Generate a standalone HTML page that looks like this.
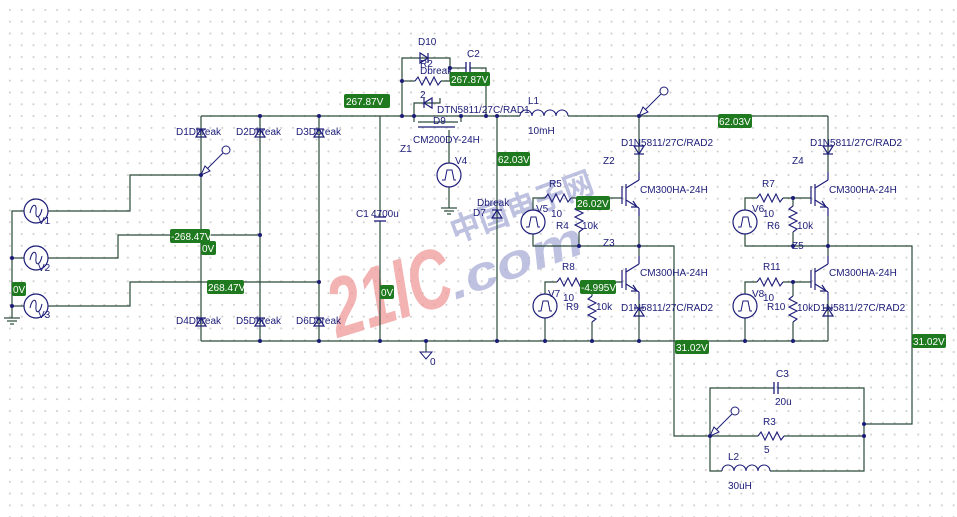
<!DOCTYPE html>
<html><head><meta charset="utf-8"><style>
html,body{margin:0;padding:0;background:#fff}
body{width:957px;height:517px;overflow:hidden;position:relative;
background-image:radial-gradient(circle,#cfcfcf 0.8px,transparent 1.2px);background-size:11.8px 11.8px;background-position:4px 4px}
svg{position:absolute;left:0;top:0}
text{font-family:"Liberation Sans",Arial,sans-serif;font-size:10px;fill:#1c1c78}
.g text{fill:#fff;font-size:10px}
.g rect{fill:#1f7a1f}
</style></head><body>
<svg width="957" height="517" viewBox="0 0 957 517">
<defs>
<g id="dup"><polygon points="-5,4 5,4 0,-4" fill="none" stroke="#1c1c78" stroke-width="1.2"/><line x1="-5" y1="-4" x2="5" y2="-4" stroke="#1c1c78" stroke-width="1.2"/></g>
<g id="ddn"><polygon points="-5,-4 5,-4 0,4" fill="none" stroke="#1c1c78" stroke-width="1.2"/><line x1="-5" y1="4" x2="5" y2="4" stroke="#1c1c78" stroke-width="1.2"/></g>
<g id="rh"><polyline points="0,0 3,-4 7,4 11,-4 15,4 19,-4 23,4 26,0" fill="none" stroke="#1c1c78" stroke-width="1.1"/></g>
<g id="rv"><polyline points="0,0 -4,3 4,7 -4,11 4,15 -4,19 4,23 0,26" fill="none" stroke="#1c1c78" stroke-width="1.1"/></g>
<g id="sine"><circle r="12" fill="#fff" stroke="#1c1c78" stroke-width="1.2"/><path d="M-6,2 C-4,-8 1,-8 0,0 C-1,8 4,8 6,-2" fill="none" stroke="#1c1c78"/></g>
<g id="pulse"><circle r="12" fill="#fff" stroke="#1c1c78" stroke-width="1.2"/><polyline points="-7,5 -4,5 -2,-5 3,-5 5,5 7,5" fill="none" stroke="#1c1c78"/></g>
<g id="igbt" stroke="#1c1c78" stroke-width="1.2" fill="none"><line x1="0" y1="0" x2="0" y2="8"/><line x1="0" y1="8" x2="-13" y2="16"/><line x1="-13" y1="12" x2="-13" y2="34"/><line x1="-17" y1="14" x2="-17" y2="32"/><line x1="-13" y1="28" x2="0" y2="36"/><polyline points="-6,29 -2,35 -8,35"/><line x1="0" y1="36" x2="0" y2="44"/></g>
<g id="probe" stroke="#1c1c78" fill="none"><line x1="0" y1="0" x2="22" y2="-22"/><polygon points="0,0 9,-4 4,-9" fill="#fff"/><circle cx="25" cy="-25" r="4"/></g>
<g id="dot"><circle r="2" fill="#1c1c78"/></g>
</defs>

<!-- watermark -->
<g opacity="0.75">
<text x="338" y="338" textLength="125" lengthAdjust="spacingAndGlyphs" transform="rotate(-17 338 338)" style="font-size:84px;font-weight:bold;font-style:italic;fill:#ef9a9a">21IC</text>
<text x="455" y="243" textLength="150" lengthAdjust="spacingAndGlyphs" transform="rotate(-20 455 243)" style="font-size:32px;font-weight:bold;fill:#a9aed6;font-family:'Noto Sans CJK SC',sans-serif">中国电子网</text>
<text x="455" y="300" textLength="140" lengthAdjust="spacingAndGlyphs" transform="rotate(-20 455 300)" style="font-size:48px;font-weight:bold;font-style:italic;fill:#a9aed6">.com</text>
</g>

<g stroke="#2a4a3a" stroke-width="1.2" fill="none">
<line x1="201" y1="116" x2="520" y2="116"/>
<line x1="568" y1="116" x2="828" y2="116"/>
<line x1="201" y1="341" x2="828" y2="341"/>
<line x1="201" y1="116" x2="201" y2="341"/>
<line x1="260" y1="116" x2="260" y2="341"/>
<line x1="319" y1="116" x2="319" y2="341"/>
<polyline points="201,175 130,175 130,211 48,211"/>
<polyline points="260,235 118,235 118,258 48,258"/>
<polyline points="319,282 130,282 130,306 48,306"/>
<polyline points="24,211 12,211 12,318"/>
<line x1="12" y1="258" x2="24" y2="258"/>
<line x1="12" y1="306" x2="24" y2="306"/>
<line x1="4" y1="318" x2="20" y2="318"/><line x1="7" y1="321" x2="17" y2="321"/><line x1="10" y1="324" x2="14" y2="324"/>
<line x1="380" y1="116" x2="380" y2="217"/><line x1="380" y1="221" x2="380" y2="341"/>
<line x1="426" y1="341" x2="426" y2="352"/>
<line x1="497" y1="116" x2="497" y2="341"/>
<polyline points="402,116 402,58 450,58 450,68"/>
<polyline points="450,68 466,68"/><polyline points="470,68 486,68 486,116"/>
<polyline points="402,81 415,81"/><polyline points="441,81 450,81 450,68"/>
<polyline points="414,116 414,103 440,103 440,98"/>
<line x1="414" y1="116" x2="414" y2="122"/><line x1="461" y1="116" x2="461" y2="122"/>
<line x1="418" y1="122" x2="458" y2="122"/>
<line x1="449" y1="130" x2="449" y2="163"/><line x1="449" y1="187" x2="449" y2="208"/>
<line x1="441" y1="208" x2="457" y2="208"/><line x1="444" y1="211" x2="454" y2="211"/><line x1="447" y1="214" x2="451" y2="214"/>
<line x1="639" y1="116" x2="639" y2="172"/><line x1="639" y1="216" x2="639" y2="256"/><line x1="639" y1="300" x2="639" y2="341"/>
<line x1="828" y1="116" x2="828" y2="172"/><line x1="828" y1="216" x2="828" y2="256"/><line x1="828" y1="300" x2="828" y2="341"/>
<polyline points="533,210 533,198 545,198"/><line x1="571" y1="198" x2="622" y2="198"/>
<line x1="579" y1="198" x2="579" y2="206"/><line x1="579" y1="232" x2="579" y2="246"/>
<polyline points="533,234 533,246 674,246 674,436 710,436"/>
<polyline points="545,294 545,282 557,282"/><line x1="583" y1="282" x2="622" y2="282"/>
<line x1="592" y1="282" x2="592" y2="296"/><line x1="592" y1="322" x2="592" y2="341"/>
<line x1="545" y1="318" x2="545" y2="341"/>
<polyline points="745,210 745,198 757,198"/><line x1="783" y1="198" x2="811" y2="198"/>
<line x1="793" y1="198" x2="793" y2="206"/><line x1="793" y1="232" x2="793" y2="246"/>
<polyline points="745,234 745,246 912,246 912,424 864,424"/>
<polyline points="745,294 745,282 757,282"/><line x1="783" y1="282" x2="811" y2="282"/>
<line x1="793" y1="282" x2="793" y2="296"/><line x1="793" y1="322" x2="793" y2="341"/>
<line x1="745" y1="318" x2="745" y2="341"/>
<polyline points="774,388 710,388 710,471 722,471"/>
<polyline points="778,388 864,388 864,471 770,471"/>
<line x1="710" y1="436" x2="758" y2="436"/><line x1="784" y1="436" x2="864" y2="436"/>
</g>
<g stroke="#1c1c78" stroke-width="1.3">
<line x1="374" y1="217" x2="386" y2="217"/><line x1="374" y1="221" x2="386" y2="221"/>
<line x1="466" y1="62" x2="466" y2="74"/><line x1="470" y1="62" x2="470" y2="74"/>
<line x1="774" y1="382" x2="774" y2="394"/><line x1="778" y1="382" x2="778" y2="394"/>
</g>
<polygon points="420,352 432,352 426,359" fill="none" stroke="#1c1c78"/>
<path d="M520,116 a6,6 0 0 1 12,0 a6,6 0 0 1 12,0 a6,6 0 0 1 12,0 a6,6 0 0 1 12,0" fill="none" stroke="#1c1c78" stroke-width="1.1"/>
<path d="M722,471 a6,6 0 0 1 12,0 a6,6 0 0 1 12,0 a6,6 0 0 1 12,0 a6,6 0 0 1 12,0" fill="none" stroke="#1c1c78" stroke-width="1.1"/>
<use href="#dup" x="201" y="133"/><use href="#dup" x="260" y="133"/><use href="#dup" x="319" y="133"/>
<use href="#dup" x="201" y="322"/><use href="#dup" x="260" y="322"/><use href="#dup" x="319" y="322"/>
<use href="#dup" x="497" y="214"/>
<use href="#ddn" x="639" y="150"/><use href="#ddn" x="828" y="150"/>
<use href="#dup" x="639" y="312"/><use href="#dup" x="828" y="312"/>
<g transform="translate(424,58) rotate(-90)"><use href="#ddn"/></g>
<g transform="translate(428,103) rotate(90)"><use href="#ddn"/></g>
<use href="#rh" x="415" y="81"/><use href="#rh" x="545" y="198"/><use href="#rh" x="557" y="282"/>
<use href="#rh" x="757" y="198"/><use href="#rh" x="757" y="282"/><use href="#rh" x="758" y="436"/>
<use href="#rv" x="579" y="206"/><use href="#rv" x="592" y="296"/><use href="#rv" x="793" y="206"/><use href="#rv" x="793" y="296"/>
<use href="#igbt" x="639" y="172"/><use href="#igbt" x="639" y="256"/><use href="#igbt" x="828" y="172"/><use href="#igbt" x="828" y="256"/>
<line x1="418" y1="127" x2="455" y2="127" stroke="#1c1c78" stroke-width="1.2"/>
<use href="#sine" x="36" y="211"/><use href="#sine" x="36" y="258"/><use href="#sine" x="36" y="306"/>
<use href="#pulse" x="449" y="175"/><use href="#pulse" x="533" y="222"/><use href="#pulse" x="545" y="306"/>
<use href="#pulse" x="745" y="222"/><use href="#pulse" x="745" y="306"/>
<use href="#probe" x="201" y="175"/><use href="#probe" x="639" y="116"/><use href="#probe" x="710" y="436"/>
<g>
<use href="#dot" x="260" y="116"/><use href="#dot" x="319" y="116"/><use href="#dot" x="402" y="116"/><use href="#dot" x="414" y="116"/><use href="#dot" x="461" y="116"/><use href="#dot" x="486" y="116"/><use href="#dot" x="497" y="116"/><use href="#dot" x="639" y="116"/>
<use href="#dot" x="260" y="341"/><use href="#dot" x="319" y="341"/><use href="#dot" x="380" y="341"/><use href="#dot" x="426" y="341"/><use href="#dot" x="497" y="341"/><use href="#dot" x="545" y="341"/><use href="#dot" x="592" y="341"/><use href="#dot" x="639" y="341"/><use href="#dot" x="745" y="341"/><use href="#dot" x="793" y="341"/>
<use href="#dot" x="201" y="175"/><use href="#dot" x="260" y="235"/><use href="#dot" x="319" y="282"/><use href="#dot" x="12" y="258"/><use href="#dot" x="12" y="306"/>
<use href="#dot" x="402" y="81"/><use href="#dot" x="450" y="68"/>
<use href="#dot" x="579" y="246"/><use href="#dot" x="639" y="246"/><use href="#dot" x="793" y="198"/><use href="#dot" x="793" y="246"/><use href="#dot" x="828" y="246"/><use href="#dot" x="793" y="282"/>
<use href="#dot" x="710" y="436"/><use href="#dot" x="864" y="436"/><use href="#dot" x="864" y="424"/>
</g>

<text x="176" y="135">D1Dbreak</text><text x="236" y="135">D2Dbreak</text><text x="296" y="135">D3Dbreak</text>
<text x="176" y="324">D4Dbreak</text><text x="236" y="324">D5Dbreak</text><text x="296" y="324">D6Dbreak</text>
<text x="38" y="224">V1</text><text x="38" y="271">V2</text><text x="38" y="318">V3</text>
<text x="356" y="217">C1</text><text x="371" y="217">4700u</text>
<text x="430" y="365">0</text>
<text x="418" y="45">D10</text><text x="467" y="57">C2</text><text x="420" y="67">R2</text><text x="420" y="74">Dbreak</text>
<text x="420" y="98">2</text><text x="437" y="113">DTN5811/27C/RAD1</text><text x="433" y="124">D9</text>
<text x="413" y="143">CM200DY-24H</text><text x="400" y="152">Z1</text><text x="455" y="164">V4</text>
<text x="528" y="104">L1</text><text x="528" y="134">10mH</text>
<text x="477" y="206">Dbreak</text><text x="473" y="216">D7</text>
<text x="621" y="146">D1N5811/27C/RAD2</text><text x="810" y="146">D1N5811/27C/RAD2</text>
<text x="603" y="164">Z2</text><text x="792" y="164">Z4</text>
<text x="640" y="193">CM300HA-24H</text><text x="829" y="193">CM300HA-24H</text>
<text x="640" y="276">CM300HA-24H</text><text x="829" y="276">CM300HA-24H</text>
<text x="603" y="246">Z3</text><text x="792" y="249">Z5</text>
<text x="549" y="187">R5</text><text x="536" y="212">V5</text><text x="551" y="217">10</text><text x="556" y="229">R4</text><text x="582" y="229">10k</text>
<text x="562" y="270">R8</text><text x="548" y="297">V7</text><text x="563" y="301">10</text><text x="566" y="310">R9</text><text x="596" y="310">10k</text>
<text x="621" y="311">D1N5811/27C/RAD2</text>
<text x="762" y="187">R7</text><text x="752" y="212">V6</text><text x="763" y="217">10</text><text x="767" y="229">R6</text><text x="797" y="229">10k</text>
<text x="763" y="270">R11</text><text x="752" y="297">V8</text><text x="763" y="301">10</text><text x="767" y="310">R10</text><text x="797" y="311">10kD1N5811/27C/RAD2</text>
<text x="776" y="377">C3</text><text x="775" y="405">20u</text>
<text x="763" y="425">R3</text><text x="764" y="453">5</text>
<text x="728" y="460">L2</text><text x="728" y="489">30uH</text>

<g class="g">
<rect x="344" y="94" width="46" height="14" rx="2"/><text x="346" y="105">267.87V</text>
<rect x="450" y="72" width="40" height="14" rx="2"/><text x="451" y="83">267.87V</text>
<rect x="497" y="152" width="33" height="14" rx="2"/><text x="498" y="163">62.03V</text>
<rect x="718" y="114" width="34" height="14" rx="2"/><text x="719" y="125">62.03V</text>
<rect x="170" y="229" width="40" height="14" rx="2"/><text x="171" y="240">-268.47V</text>
<rect x="201" y="241" width="15" height="14" rx="2"/><text x="202" y="252">0V</text>
<rect x="207" y="280" width="37" height="14" rx="2"/><text x="208" y="291">268.47V</text>
<rect x="12" y="282" width="14" height="14" rx="2"/><text x="13" y="293">0V</text>
<rect x="380" y="285" width="14" height="14" rx="2"/><text x="381" y="296">0V</text>
<rect x="576" y="196" width="34" height="14" rx="2"/><text x="577" y="207">26.02V</text>
<rect x="580" y="280" width="36" height="14" rx="2"/><text x="581" y="291">-4.995V</text>
<rect x="675" y="340" width="34" height="14" rx="2"/><text x="676" y="351">31.02V</text>
<rect x="912" y="334" width="34" height="14" rx="2"/><text x="913" y="345">31.02V</text>
</g>
</svg>
</body></html>
